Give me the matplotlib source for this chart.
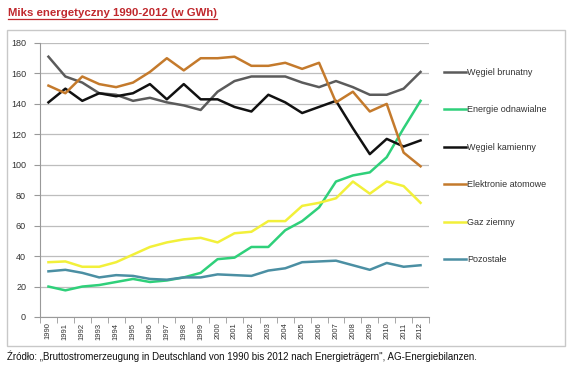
import matplotlib.pyplot as plt
from matplotlib.patches import Rectangle
from matplotlib.lines import Line2D

plt.rcParams['font.family'] = ['Liberation Sans', 'DejaVu Sans']

years = [str(y) for y in range(1990, 2013)]

wegiel_brunatny = [171, 158, 154, 147, 146, 142, 144, 141, 139, 136, 148, 155,
                   158, 158, 158, 154, 151, 155, 151, 146, 146, 150, 161]
energie_odnawialne = [20, 17.5, 20, 21, 23, 25, 23, 24, 26, 29, 38, 39,
                      46, 46, 57, 63, 72, 89, 93, 95, 105, 124, 142]
wegiel_kamienny = [141, 150, 142, 147, 145, 147, 153, 143, 153, 143, 143, 138,
                   135, 146, 141, 134, 138, 142, 124, 107, 117, 112, 116]
elektrownie_atomowe = [152, 147, 158, 153, 151, 154, 161, 170, 162, 170, 170, 171,
                       165, 165, 167, 163, 167, 141, 148, 135, 140, 108, 99]
gaz_ziemny = [36, 36.5, 33, 33, 36, 41, 46, 49, 51, 52, 49, 55,
              56, 63, 63, 73, 75, 78, 89, 81, 89, 86, 75]
pozostale = [30, 31, 29, 26, 27.5, 27, 25, 24.5, 26, 26, 28, 27.5,
             27, 30.5, 32, 36, 36.5, 37, 34, 31, 35.5, 33, 34]

series = [
    ('Węgiel brunatny', wegiel_brunatny, '#5b5b5b'),
    ('Energie odnawialne', energie_odnawialne, '#2fd07a'),
    ('Węgiel kamienny', wegiel_kamienny, '#111111'),
    ('Elektronie atomowe', elektrownie_atomowe, '#c47a2c'),
    ('Gaz ziemny', gaz_ziemny, '#f2f03a'),
    ('Pozostałe', pozostale, '#4b8fa3'),
]

W, H = 570, 365
fig = plt.figure(figsize=(W / 100, H / 100), dpi=100)

# outer frame
fig.add_artist(Rectangle((7 / W, 1 - 346 / H), 558 / W, 316 / H, transform=fig.transFigure,
                         fill=False, edgecolor='#c8c8c8', linewidth=1))

ax = fig.add_axes([40 / W, 1 - 317 / H, 389 / W, 274 / H])
x = list(range(len(years)))
for name, vals, col in series:
    ax.plot(x, vals, color=col, linewidth=1.8, label=name)

ax.set_xlim(-0.5, len(years) - 0.5)
ax.set_ylim(0, 180)
ax.set_yticks(range(0, 181, 20))
ax.set_xticks(x)
ax.set_xticklabels(years, rotation=90, fontsize=5.5, color='#333333')
ax.set_xticks([i - 0.5 for i in range(len(years) + 1)], minor=True)
ax.tick_params(axis='x', which='major', length=0, pad=4)
ax.tick_params(axis='x', which='minor', length=4, color='#999999')
ax.tick_params(axis='y', labelsize=6.5, colors='#333333', length=4, pad=6)
ax.tick_params(axis='y', color='#999999')
ax.grid(axis='y', color='#bdbdbd', linewidth=0.9)
ax.set_axisbelow(True)
for s in ('top', 'right'):
    ax.spines[s].set_visible(False)
for s in ('left', 'bottom'):
    ax.spines[s].set_color('#999999')

leg = ax.legend(loc='upper left', bbox_to_anchor=(444 / W, 1 - 68 / H),
                bbox_transform=fig.transFigure, frameon=False, fontsize=6.5,
                handlelength=2.4, handletextpad=0.15, labelspacing=3.15,
                borderpad=0, borderaxespad=0)
for t in leg.get_texts():
    t.set_color('#333333')

# title with underline
title = fig.text(8 / W, 1 - 13 / H, 'Miks energetyczny 1990-2012 (w GWh)', color='#c0282d',
                 fontsize=8.2, fontweight='bold', va='center', ha='left')
fig.canvas.draw()
bb = title.get_window_extent().transformed(fig.transFigure.inverted())
fig.add_artist(Line2D([bb.x0, bb.x1], [bb.y0 - 0.002, bb.y0 - 0.002], transform=fig.transFigure,
                      color='#c0282d', linewidth=0.9))

fig.text(7 / W, 1 - 356 / H,
         'Źródło: „Bruttostromerzeugung in Deutschland von 1990 bis 2012 nach Energieträgern", '
         'AG-Energiebilanzen.', fontsize=7, color='#111111', va='center', ha='left')

fig.savefig('out.png', dpi=100)
